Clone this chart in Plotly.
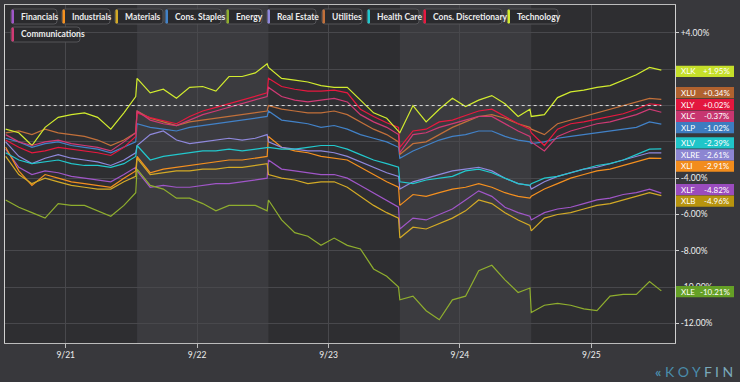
import plotly.graph_objects as go

# ---------------- data ----------------
dates = ["9/21", "9/22", "9/23", "9/24", "9/25"]
offsets = [0, .1, .2, .3, .4, .5, .6, .7, .8, .9, .99]
x = [s + o for s in range(5) for o in offsets]

xlf = [-2.4, -3.4, -3.8, -3.6, -3.7, -3.9, -4.0, -4.1, -4.2, -3.8, -3.4,
       -3.6, -4.5, -4.4, -4.5, -4.5, -4.4, -4.3, -4.3, -4.2, -4.1, -4.0,
       -3.0, -3.5, -3.6, -3.7, -3.8, -3.8, -4.0, -4.4, -4.8, -5.2, -5.6,
       -6.8, -6.2, -6.3, -6.0, -5.7, -5.2, -4.7, -5.0, -5.6, -5.9, -6.1,
       -6.3, -5.9, -5.7, -5.6, -5.4, -5.2, -5.1, -4.9, -4.8, -4.6, -4.82]
xli = [-2.3, -3.6, -4.4, -3.8, -4.0, -4.2, -4.3, -4.4, -4.5, -4.0, -3.6,
       -2.8, -3.7, -3.5, -3.4, -3.3, -3.2, -3.1, -3.0, -3.0, -2.9, -2.8,
       -1.7, -2.3, -2.5, -2.6, -2.8, -2.9, -3.0, -3.4, -3.8, -4.2, -4.5,
       -5.5, -4.9, -5.0, -4.8, -4.6, -4.5, -4.3, -4.5, -4.8, -5.0, -5.1,
       -5.0, -4.6, -4.3, -4.0, -3.8, -3.6, -3.5, -3.3, -3.1, -2.9, -2.91]
xlb = [-2.8, -3.8, -4.3, -4.0, -4.2, -4.4, -4.5, -4.6, -4.6, -4.2, -3.9,
       -2.9, -3.8, -3.7, -3.6, -3.6, -3.5, -3.5, -3.4, -3.4, -3.3, -3.2,
       -3.8, -4.0, -4.1, -4.3, -4.2, -4.2, -4.5, -5.0, -5.5, -5.9, -6.2,
       -7.3, -6.7, -6.8, -6.5, -6.2, -5.8, -5.2, -5.4, -5.9, -6.3, -6.6,
       -6.9, -6.2, -6.0, -5.9, -5.7, -5.5, -5.4, -5.2, -5.0, -4.8, -4.96]
xlp = [-1.8, -2.0, -2.3, -2.1, -2.0, -2.2, -2.3, -2.4, -2.6, -2.3, -2.0,
       -1.0, -1.2, -1.3, -1.4, -1.2, -1.1, -1.0, -0.9, -0.8, -0.7, -0.6,
       -0.3, -0.8, -0.9, -1.0, -1.2, -1.1, -1.3, -1.6, -1.8, -2.0, -2.3,
       -2.9, -2.5, -2.2, -1.9, -1.7, -1.6, -1.4, -1.4, -1.7, -1.9, -2.0,
       -2.1, -2.0, -1.8, -1.7, -1.6, -1.5, -1.4, -1.3, -1.2, -0.9, -1.02]
xle = [-5.2, -5.6, -5.9, -6.2, -5.4, -5.5, -5.5, -5.8, -6.1, -5.5, -4.8,
       -3.5, -4.4, -4.6, -5.1, -5.1, -5.4, -5.8, -5.5, -5.5, -5.5, -5.8,
       -5.2, -6.3, -7.0, -7.2, -7.7, -7.3, -7.7, -7.9, -9.0, -9.4, -10.0,
       -10.7, -10.5, -11.3, -11.8, -10.7, -10.5, -9.1, -8.8, -9.6, -10.3, -10.05,
       -11.4, -11.0, -10.9, -11.0, -11.2, -11.3, -10.5, -10.4, -10.4, -9.7, -10.21]
xlre = [-2.0, -2.8, -3.2, -2.9, -2.7, -2.9, -3.0, -3.1, -3.3, -3.0, -2.6,
        -2.2, -1.6, -1.4, -1.9, -2.1, -2.0, -1.9, -1.8, -1.9, -1.8, -1.6,
        -2.0, -2.3, -2.4, -2.5, -2.5, -2.6, -2.8, -3.1, -3.4, -3.7, -3.9,
        -4.6, -4.2, -4.0, -3.8, -3.6, -3.5, -3.4, -3.6, -4.0, -4.3, -4.4,
        -4.6, -4.2, -3.9, -3.7, -3.5, -3.4, -3.2, -3.0, -2.8, -2.6, -2.61]
xlu = [-1.5, -1.4, -1.6, -1.3, -1.5, -1.6, -1.7, -1.9, -2.2, -1.9, -1.5,
       -0.3, -0.7, -0.9, -1.1, -0.9, -0.8, -0.7, -0.6, -0.5, -0.4, -0.3,
       0.0, -0.2, -0.3, -0.4, -0.4, -0.3, -0.5, -0.9, -1.3, -1.6, -2.0,
       -2.7, -2.1, -2.0, -1.6, -1.2, -0.9, -0.6, -0.5, -0.7, -1.0, -1.2,
       -1.3, -1.6, -1.0, -0.8, -0.6, -0.4, -0.2, 0.0, 0.2, 0.4, 0.34]
xlv = [-2.6, -3.0, -3.2, -3.1, -3.0, -3.2, -3.3, -3.3, -3.4, -3.2, -2.8,
       -2.2, -3.0, -2.8, -2.7, -2.6, -2.5, -2.5, -2.4, -2.5, -2.4, -2.3,
       -2.3, -2.4, -2.4, -2.3, -2.2, -2.2, -2.4, -2.7, -3.0, -3.2, -3.4,
       -4.2, -4.3, -4.1, -4.0, -3.9, -3.6, -3.5, -3.7, -4.0, -4.3, -4.4,
       -4.3, -4.0, -3.9, -3.7, -3.5, -3.3, -3.2, -3.0, -2.7, -2.4, -2.39]
xly = [-1.9, -2.3, -2.6, -2.5, -2.3, -2.4, -2.5, -2.6, -2.75, -2.3, -1.7,
       -0.4, -0.66, -0.85, -1.0, -0.6, -0.3, -0.1, 0.1, 0.3, 0.5, 0.7,
       1.5, 1.05, 0.9, 0.8, 0.8, 0.85, 0.7, -0.2, -0.6, -0.95, -1.2,
       -2.3, -1.4, -1.3, -0.9, -0.8, -0.55, -0.3, -0.2, -0.6, -1.0, -1.3,
       -1.5, -2.2, -1.3, -1.0, -0.9, -0.75, -0.6, -0.45, -0.2, 0.1, 0.02]
xlk = [-1.3, -1.5, -2.2, -1.2, -0.65, -0.5, -0.4, -0.65, -1.3, -0.4, 0.5,
       1.5, 0.7, 0.9, 0.4, 1.0, 1.05, 0.8, 1.6, 1.6, 1.8, 2.3,
       2.1, 1.5, 1.4, 1.3, 1.1, 1.0, 1.0, 0.3, -0.4, -0.7, -1.4,
       -1.5, 0.0, -0.9, -0.2, 0.4, -0.05, 0.3, 0.55, 0.1, -0.6, -0.2,
       -0.6, -0.5, 0.44, 0.75, 0.85, 1.0, 1.1, 1.4, 1.7, 2.1, 1.95]
xlc = [-1.6, -2.0, -2.2, -2.0, -1.9, -2.1, -2.2, -2.3, -2.5, -2.0, -1.5,
       -0.3, -0.8, -1.0, -1.1, -0.8, -0.5, -0.3, -0.1, 0.1, 0.3, 0.5,
       1.0, 0.5, 0.3, 0.2, 0.3, 0.4, 0.2, -0.5, -0.9, -1.2, -1.6,
       -2.6, -1.6, -1.5, -1.2, -1.0, -0.8, -0.6, -0.6, -1.0, -1.4, -1.7,
       -2.0, -2.5, -1.7, -1.4, -1.2, -1.0, -0.9, -0.7, -0.5, -0.2, -0.37]

sector_names = ["Financials", "Industrials", "Materials", "Cons. Staples", "Energy",
                "Real Estate", "Utilities", "Health Care", "Cons. Discretionary",
                "Technology", "Communications"]
tickers = ["XLF", "XLI", "XLB", "XLP", "XLE", "XLRE", "XLU", "XLV", "XLY", "XLK", "XLC"]
series = [xlf, xli, xlb, xlp, xle, xlre, xlu, xlv, xly, xlk, xlc]

# +2 / 0 / -2 labels sit behind the value badges in the original, so left blank
y_ticks = [4, 2, 0, -2, -4, -6, -8, -10, -12]
y_ticktext = ["+4.00%", "", "", "", "-4.00%", "-6.00%", "-8.00%", "-10.00%", "-12.00%"]

# ---------------- styles ----------------
line_colors = ["#a056c8", "#f5901f", "#d3aa26", "#4282c8", "#8fae2e",
               "#8f88dc", "#c2703a", "#22c8cd", "#e8183f", "#d2ec2e", "#cf3a74"]
badge_colors = ["#9a4cbe", "#f28c1c", "#b8940e", "#3d7cc0", "#65a026",
                "#8c86d2", "#b0622f", "#1fc5c9", "#e3173e", "#c5df2a", "#c73670"]
# badge centres (stacked to avoid overlap), in axis units
badge_pos = [-4.63, -3.34, -5.27, -1.22, -10.25, -2.71, 0.71, -2.06, 0.05, 1.89, -0.59]

W, H = 740, 382
ML, MR, MT, MB = 5, 65, 5, 39
PW, PH = W - ML - MR, H - MT - MB
FONT = "Lato"

def pxx(px):
    return (px - ML) / PW

def pxy(py):
    return (H - MB - py) / PH

def rrect(x0, y0, x1, y1, r):
    X0, X1 = pxx(x0), pxx(x1)
    Y0, Y1 = pxy(y0), pxy(y1)
    rx, ry = r / PW, r / PH
    return (f"M{X0+rx},{Y0} L{X1-rx},{Y0} Q{X1},{Y0} {X1},{Y0-ry} "
            f"L{X1},{Y1+ry} Q{X1},{Y1} {X1-rx},{Y1} L{X0+rx},{Y1} "
            f"Q{X0},{Y1} {X0},{Y1+ry} L{X0},{Y0-ry} Q{X0},{Y0} {X0+rx},{Y0} Z")

fig = go.Figure()
for name, tk, ys, col in zip(sector_names, tickers, series, line_colors):
    fig.add_trace(go.Scatter(x=x, y=ys, mode="lines", name=name,
                             line=dict(color=col, width=1.2), hoverinfo="skip"))

shapes = []
# alternating session bands
for s in (1, 3):
    shapes.append(dict(type="rect", xref="x", yref="paper", x0=s, x1=s + 1, y0=0, y1=1,
                       fillcolor="#3b3b3f", line=dict(width=0), layer="below"))
# dotted zero line
shapes.append(dict(type="line", xref="x", yref="y", x0=x[0], x1=x[-1], y0=0, y1=0,
                   line=dict(color="#dddddd", width=1, dash="dot"), layer="above"))

annotations = []
# legend chips
leg_boxes = [(11, 57, 0), (62, 110, 0), (115, 163, 0), (165, 221, 0), (226, 262, 0),
             (267, 316, 0), (322, 362, 0), (367, 419, 0), (423, 502, 0), (507, 558, 0),
             (11, 80, 1)]
rows = [(9, 24), (27, 42)]
for (x0, x1, r), name, col in zip(leg_boxes, sector_names, line_colors):
    y0, y1 = rows[r]
    shapes.append(dict(type="path", xref="paper", yref="paper", path=rrect(x0, y0, x1, y1, 3),
                       fillcolor="#2a2a2d", line=dict(color="#555559", width=1), layer="above"))
    shapes.append(dict(type="path", xref="paper", yref="paper",
                       path=rrect(x0 + 0.5, y0 + 0.5, x0 + 3, y1 - 0.5, 1.2),
                       fillcolor=col, line=dict(width=0), layer="above"))
    annotations.append(dict(xref="paper", yref="paper", x=pxx(x0 + 7.5), y=pxy((y0 + y1) / 2),
                            text=name, showarrow=False, xanchor="left", yanchor="middle",
                            font=dict(family=FONT, size=8.5, color="#ececec", weight="bold")))

# value badges on the right
finals = [ys[-1] for ys in series]
bh = 0.31
for tk, v, pos, bc in zip(tickers, finals, badge_pos, badge_colors):
    shapes.append(dict(type="rect", xref="paper", yref="y", x0=pxx(676), x1=pxx(734),
                       y0=pos - bh, y1=pos + bh, fillcolor=bc, line=dict(width=0), layer="above"))
    annotations.append(dict(xref="paper", yref="y", x=pxx(679), y=pos, text=tk,
                            showarrow=False, xanchor="left", yanchor="middle",
                            font=dict(family=FONT, size=8, color="#ffffff")))
    annotations.append(dict(xref="paper", yref="y", x=pxx(732), y=pos,
                            text=f"{v:+.2f}%", showarrow=False, xanchor="right",
                            yanchor="middle", font=dict(family=FONT, size=8, color="#ffffff")))

# logo
annotations.append(dict(xref="paper", yref="paper", x=pxx(735), y=pxy(371),
                        text="<b>«</b> <span style='color:#4a8cab'>K O Y</span> <span style='color:#7aa8ba'>F I N</span>",
                        showarrow=False, xanchor="right", yanchor="middle",
                        font=dict(family=FONT, size=14, color="#4a8cab")))

fig.update_layout(
    width=W, height=H,
    margin=dict(l=ML, r=MR, t=MT, b=MB),
    paper_bgcolor="#38383c",
    plot_bgcolor="#2e2e31",
    showlegend=False,
    shapes=shapes,
    annotations=annotations,
    font=dict(family=FONT, color="#e6e6e6"),
    xaxis=dict(range=[-0.005, 5.094], tickvals=[i + 0.457 for i in range(5)], ticktext=dates,
               showgrid=True, gridcolor="#48484c", gridwidth=1, zeroline=False,
               showline=True, linecolor="#bcbcbc", linewidth=1, mirror=True,
               ticks="outside", ticklen=4, tickcolor="#bcbcbc",
               tickfont=dict(family=FONT, size=8.5, color="#eeeeee")),
    yaxis=dict(range=[-13.08, 5.54], side="right", tickvals=y_ticks, ticktext=y_ticktext,
               showgrid=True, gridcolor="#48484c", gridwidth=1, zeroline=False,
               showline=True, linecolor="#d0d0d0", linewidth=1, mirror=True,
               ticks="outside", ticklen=3, tickcolor="#d0d0d0",
               tickfont=dict(family=FONT, size=8.5, color="#eeeeee")),
)

fig.write_html("out.html", config={"displayModeBar": False},
               post_script="document.body.style.margin='0';document.body.style.background='#38383c';")
